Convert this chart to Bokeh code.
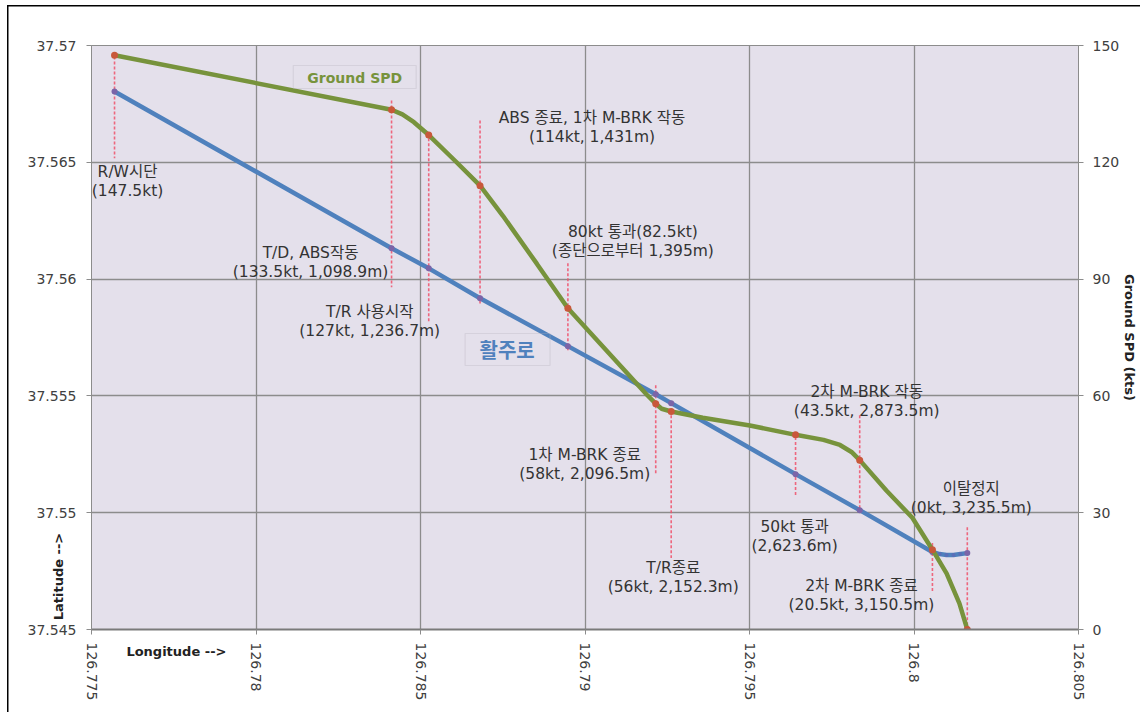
import math
from bokeh.plotting import figure
from bokeh.models import (Range1d, LinearAxis, FixedTicker, CustomJSTickFormatter,
                          BoxAnnotation, Label, ColumnDataSource)
from bokeh.core.properties import value
from bokeh.embed import file_html
from bokeh.resources import INLINE

# ---------------- data ----------------
event_line1 = ["R/W시단", "T/D, ABS작동", "T/R 사용시작", "ABS 종료, 1차 M-BRK 작동",
               "80kt 통과(82.5kt)", "1차 M-BRK 종료", "T/R종료", "50kt 통과",
               "2차 M-BRK 작동", "2차 M-BRK 종료", "이탈정지"]
event_line2 = ["(147.5kt)", "(133.5kt, 1,098.9m)", "(127kt, 1,236.7m)", "(114kt, 1,431m)",
               "(종단으로부터 1,395m)", "(58kt, 2,096.5m)", "(56kt, 2,152.3m)", "(2,623.6m)",
               "(43.5kt, 2,873.5m)", "(20.5kt, 3,150.5m)", "(0kt, 3,235.5m)"]
event_lon = [126.77570, 126.78412, 126.78525, 126.78681, 126.78948, 126.79215,
             126.79262, 126.79640, 126.79835, 126.80056, 126.80162]
event_lat = [37.56803, 37.56132, 37.56046, 37.55918, 37.55713, 37.55507,
             37.55469, 37.55165, 37.55011, 37.54832, 37.54827]
event_spd = [147.5, 133.5, 127, 114, 82.5, 58, 56, 50, 43.5, 20.5, 0]

# runway track (blue) incl. the dotted tail after 2nd M-BRK end
track_lon = [126.77570, 126.78412, 126.78525, 126.78681, 126.78948, 126.79215,
             126.79262, 126.79640, 126.79835, 126.80056, 126.80078, 126.80099,
             126.80120, 126.80141, 126.80162]
track_lat = [37.56803, 37.56132, 37.56046, 37.55918, 37.55713, 37.55507,
             37.55469, 37.55165, 37.55011, 37.54832, 37.54823, 37.54819,
             37.54819, 37.54823, 37.54827]

# ground speed curve (green)
spd_lon = [126.77570, 126.78412, 126.78445, 126.78480, 126.78525, 126.78605,
           126.78681, 126.78751, 126.78854, 126.78948, 126.79188, 126.79215,
           126.79233, 126.79262, 126.79358, 126.79501, 126.79640, 126.79725,
           126.79775, 126.79810, 126.79835, 126.79916, 126.79995, 126.80056,
           126.80099, 126.80138, 126.80162]
spd_val = [147.5, 133.5, 132.3, 130.3, 127, 120.4, 114, 106.2, 93.9, 82.5,
           60.3, 58, 56.7, 56, 54.4, 52.4, 50, 48.7, 47.4, 45.6, 43.5, 35.7,
           28.7, 20.5, 14.4, 6.7, 0]

x_ticks = [126.775, 126.78, 126.785, 126.79, 126.795, 126.8, 126.805]
lat_ticks = [37.545, 37.55, 37.555, 37.56, 37.565, 37.57]
spd_ticks = [0, 30, 60, 90, 120, 150]

# ---------------- layout constants ----------------
lead_top = [37.56953, 37.56765, 37.56624, 37.56679, 37.56068, 37.55546,
            37.55439, 37.55345, 37.55417, 37.54870, 37.54938]
lead_bot = [37.56517, 37.55965, 37.55815, 37.55888, 37.55695, 37.55161,
            37.54806, 37.55075, 37.55011, 37.54660, 37.54502]
lab_dx = [13, -81, -59, 112, 65, -71, 2, -1, 7, -71, 4]
lab_dy = [90, 14, 53, -171, -105, 70, 174, 62, -109, 44, -55]
HALF = 9.5

FONT = "DejaVu Sans, Noto Sans CJK KR"
BG = "#e4e0eb"
GRID = "#8c8c8c"

def lon_px(px):
    return 126.775 + (px - 91) / 988.0 * 0.03

def lat_px(py):
    return 37.57 - (py - 45) / 584.0 * 0.025

p = figure(width=1140, height=712,
           x_range=Range1d(126.775, 126.805), y_range=Range1d(37.545, 37.57),
           output_backend="svg", toolbar_location=None,
           min_border_left=91, min_border_right=61, min_border_top=45,
           min_border_bottom=83,
           background_fill_color=BG, border_fill_color=None,
           outline_line_color=GRID, outline_line_width=1)
p.extra_y_ranges = {"spd": Range1d(0, 150)}

fmt = CustomJSTickFormatter(code="return String(+tick.toFixed(4));")

def style_axis(ax, standoff):
    ax.major_label_text_font = FONT
    ax.major_label_text_font_size = "14px"
    ax.major_label_text_color = "#404040"
    ax.major_label_standoff = standoff
    ax.axis_line_color = GRID
    ax.major_tick_line_color = GRID
    ax.major_tick_out = 5
    ax.major_tick_in = 0
    ax.minor_tick_line_color = None
    ax.axis_label_text_font = FONT
    ax.axis_label_text_font_size = "13px"
    ax.axis_label_text_font_style = "bold"
    ax.axis_label_text_color = "#222222"

xa = p.xaxis[0]
xa.ticker = FixedTicker(ticks=x_ticks)
xa.formatter = fmt
xa.major_label_orientation = "vertical"
style_axis(xa, 8)
xa.axis_line_color = "#7a7a7a"
xa.axis_line_width = 2

ya = p.yaxis[0]
ya.ticker = FixedTicker(ticks=lat_ticks)
ya.formatter = fmt
style_axis(ya, 10)

ra = LinearAxis(y_range_name="spd", ticker=FixedTicker(ticks=spd_ticks))
style_axis(ra, 9)
ra.axis_label = "Ground SPD (kts)"
ra.axis_label_standoff = 0
p.add_layout(ra, "right")

# axis titles placed like the reference: single-label helper axes
def title_axis(text, pos, orientation, standoff):
    ax = LinearAxis(ticker=FixedTicker(ticks=[pos]),
                    formatter=CustomJSTickFormatter(code="return %r;" % text))
    ax.axis_line_color = None
    ax.major_tick_line_color = None
    ax.major_tick_out = 0
    ax.major_tick_in = 0
    ax.minor_tick_line_color = None
    ax.major_label_orientation = orientation
    ax.major_label_standoff = standoff
    ax.major_label_text_font = FONT
    ax.major_label_text_font_size = "13px"
    ax.major_label_text_font_style = "bold"
    ax.major_label_text_color = "#222222"
    return ax

p.add_layout(title_axis("Longitude -->", lon_px(176), "horizontal", -60), "below")
p.add_layout(title_axis("Latitude -->", lat_px(576), "vertical", -41), "left")

p.xgrid.ticker = FixedTicker(ticks=x_ticks)
p.ygrid.ticker = FixedTicker(ticks=lat_ticks)
for g in (p.xgrid[0], p.ygrid[0]):
    g.grid_line_color = GRID
    g.grid_line_width = 1.3

# leader lines
p.segment(x0=event_lon, y0=lead_top, x1=event_lon, y1=lead_bot,
          line_color="#f0506a", line_dash="3 2", line_width=1.6, line_alpha=0.85)

# runway track
p.line(track_lon, track_lat, line_color="#4f81bd", line_width=4.5)
p.scatter(track_lon[10:], track_lat[10:], size=4, fill_color="#5a6fb8", line_color=None)
p.scatter(event_lon, event_lat, size=6, fill_color="#7a65a8", line_color=None)

# ground speed
p.line(spd_lon, spd_val, y_range_name="spd", line_color="#77933c", line_width=4.5)
p.scatter(event_lon, event_spd, y_range_name="spd", size=7,
          fill_color="#c8583a", line_color=None)

# event labels, two rows each
src = ColumnDataSource(dict(x=event_lon, y=event_lat, t1=event_line1, t2=event_line2,
                            dx=lab_dx, dy1=[d - HALF for d in lab_dy],
                            dy2=[d + HALF for d in lab_dy]))
for col, dyc in (("t1", "dy1"), ("t2", "dy2")):
    p.text(x="x", y="y", text=col, x_offset="dx", y_offset=dyc, source=src,
           text_align="center", text_baseline="middle", text_font=value(FONT),
           text_font_size="15.5px", text_color="#333333")

# series name boxes
p.add_layout(BoxAnnotation(left=lon_px(293), right=lon_px(416), top=lat_px(65), bottom=lat_px(88),
                           fill_alpha=0, line_color="#b4b0b8", line_width=1.2))
p.add_layout(Label(x=lon_px(354.5), y=lat_px(77), text="Ground SPD", text_align="center",
                   text_baseline="middle", text_font=FONT, text_font_size="14px",
                   text_font_style="bold", text_color="#77933c"))
p.add_layout(BoxAnnotation(left=lon_px(465), right=lon_px(550), top=lat_px(333), bottom=lat_px(365),
                           fill_alpha=0, line_color="#b4b0b8", line_width=1.2))
p.add_layout(Label(x=lon_px(507), y=lat_px(350), text="활주로", text_align="center",
                   text_baseline="middle", text_font=FONT, text_font_size="20px",
                   text_font_style="bold", text_color="#4f81bd"))

# outer chart border (top and left edges) drawn as the page background behind the canvas
p.styles = {
    "background-color": "white",
    "background-image": "linear-gradient(#000, #000), linear-gradient(#000, #000)",
    "background-size": "1.5px 100%, 100% 1.5px",
    "background-position": "7px 5px, 7px 5px",
    "background-repeat": "no-repeat",
}

open("out.html", "w").write(file_html(p, INLINE))
